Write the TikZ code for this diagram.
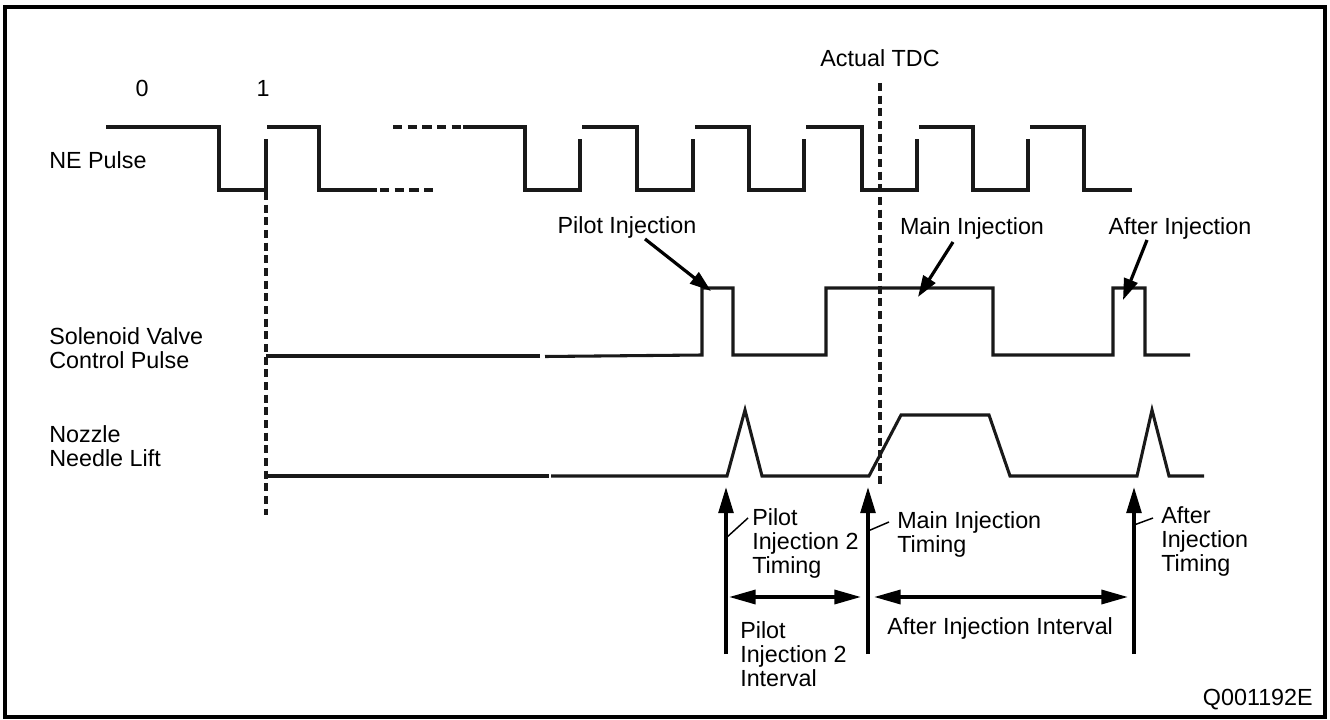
\documentclass[tikz,border=0pt]{standalone}
\usepackage{fontspec}
\setmainfont{Liberation Sans}
\usetikzlibrary{arrows.meta}
\begin{document}
\begin{tikzpicture}[x=0.75pt,y=-0.75pt,
  sig/.style={line width=2.3pt,line join=miter,color=black!90},
  dashv/.style={line width=2.6pt,dash pattern=on 6pt off 3.5pt,color=black!90},
  dashh/.style={line width=2.3pt,dash pattern=on 7pt off 4pt,color=black!90},
  vart/.style={line width=2.6pt,-{Triangle[length=19.5pt,width=11pt]}},
  dbl/.style={line width=2.6pt,{Triangle[length=20pt,width=10.5pt]}-{Triangle[length=20pt,width=10.5pt]}},
  ptr/.style={line width=2.4pt,-{Triangle[length=16pt,width=10.5pt]}},
  lead/.style={line width=1.1pt},
  lbl/.style={inner sep=0pt,align=left,font=\fontsize{17.5}{18}\selectfont},
  lblc/.style={inner sep=0pt,align=center,font=\fontsize{17.5}{18}\selectfont}]
\useasboundingbox (0,0) rectangle (1330,720);
\draw[line width=2.4pt] (5,7) rectangle (1325,717);

% labels
\node[lblc] (n0) at (142,88) {0};
\node[lblc] (n1) at (263,88) {1};
\node[lblc] (tdc) at (880,58) {Actual TDC};
\node[lbl,anchor=west] (ne) at (49,160) {NE Pulse};
\node[lbl,anchor=west] (sol) at (49,348) {Solenoid Valve\\Control Pulse};
\node[lbl,anchor=west] (noz) at (49,446) {Nozzle\\Needle Lift};
\node[lblc] (pi) at (627,227) {Pilot Injection};
\node[lblc] (mi) at (972,228) {Main Injection};
\node[lblc] (ai) at (1180,228) {After Injection};
\node[lbl,anchor=west] (pit) at (752,543) {Pilot\\Injection 2\\Timing};
\node[lbl,anchor=west] (mit) at (897,534) {Main Injection\\Timing};
\node[lbl,anchor=west] (ait) at (1161,541) {After\\Injection\\Timing};
\node[lbl,anchor=west] (pii) at (740,654) {Pilot\\Injection 2\\Interval};
\node[lbl,anchor=west] (aii) at (887,628) {After Injection Interval};
\node[lbl,anchor=east] (code) at (1313,700) {Q001192E};

% NE pulse
\draw[sig] (106,127) -- (219,127) -- (219,190) -- (266,190) -- (266,139);
\draw[sig] (267,127) -- (319,127) -- (319,190) -- (377,190);
\draw[dashh] (380,190) -- (438,190);
\draw[dashh] (393,127) -- (461,127);
\draw[sig] (463,127) -- (525,127) -- (525,190) -- (580,190) -- (580,139);
\draw[sig] (582,127) -- (637,127) -- (637,190) -- (693,190) -- (693,139);
\draw[sig] (695,127) -- (749,127) -- (749,190) -- (804,190) -- (804,139);
\draw[sig] (806,127) -- (862,127) -- (862,190) -- (917,190) -- (917,139);
\draw[sig] (919,127) -- (973,127) -- (973,190) -- (1028,190) -- (1028,139);
\draw[sig] (1030,127) -- (1084,127) -- (1084,190) -- (1132,190);

% reference dashed lines
\coordinate (r1a) at (266,192);
\coordinate (r1b) at (266,515);
\draw[dashv] (r1a) -- (r1b);
\coordinate (tdca) at (880,83);
\coordinate (tdcb) at (880,485);
\draw[dashv] (tdca) -- (tdcb);

% solenoid valve control pulse
\draw[sig] (266,356) -- (540,356);
\draw[sig] (545,356.5) -- (702,355) -- (702,288) -- (733,288) -- (733,355) -- (826,355)
  -- (826,288) -- (993,288) -- (993,355) -- (1113,355) -- (1113,288) -- (1145,288)
  -- (1145,355) -- (1190,355);

% nozzle needle lift
\draw[sig] (268,476) -- (549,476);
\draw[sig] (551,476) -- (727,476) -- (745,410) -- (762,476) -- (869,476) -- (901,415)
  -- (989,415) -- (1010,476) -- (1137,476) -- (1152,410) -- (1169,476) -- (1204,476);

% pointer arrows
\coordinate (pitip) at (711,291);
\coordinate (mitip) at (918,297);
\coordinate (aitip) at (1123,300);
\draw[ptr] (645,239) -- (pitip);
\draw[ptr] (953,242) -- (mitip);
\draw[ptr] (1147,240) -- (aitip);

% timing arrows
\coordinate (a1b) at (726,654); \coordinate (a1t) at (726,487);
\coordinate (a2b) at (868,654); \coordinate (a2t) at (868,487);
\coordinate (a3b) at (1134,654); \coordinate (a3t) at (1134,487);
\draw[vart] (a1b) -- (a1t);
\draw[vart] (a2b) -- (a2t);
\draw[vart] (a3b) -- (a3t);

% intervals
\coordinate (d1a) at (729,597); \coordinate (d1b) at (861,597);
\coordinate (d2a) at (874,597); \coordinate (d2b) at (1128,597);
\draw[dbl] (d1a) -- (d1b);
\draw[dbl] (d2a) -- (d2b);

% leader lines
\draw[lead] (726,538) -- (748,518);
\draw[lead] (868,531) -- (889,522);
\draw[lead] (1134,525) -- (1153,518);
\end{tikzpicture}
\end{document}
